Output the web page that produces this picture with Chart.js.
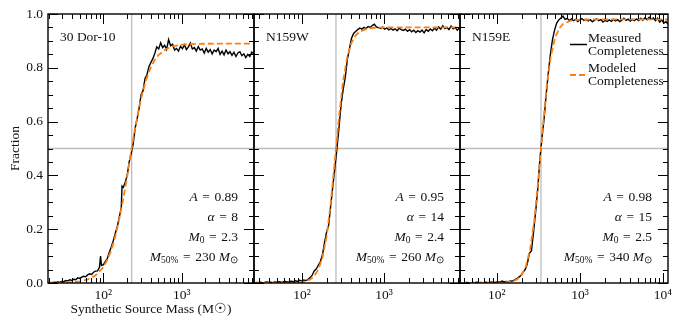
<!DOCTYPE html>
<html lang="en">
<head>
<meta charset="UTF-8">
<title>Completeness</title>
<script src="https://cdn.jsdelivr.net/npm/chart.js@4"></script>
<style>
  body { margin: 0; background: #fff; }
  #wrap { position: relative; width: 680px; height: 327px; overflow: hidden; }
  canvas { position: absolute; top: 0; }
</style>
</head>
<body>
<div id="wrap">
  <canvas id="p0" width="262" height="327" style="left:0px"></canvas>
  <canvas id="p1" width="222" height="327" style="left:246px"></canvas>
  <canvas id="p2" width="228" height="327" style="left:452px"></canvas>
</div>
<script>
// ---- data ----
const panelNames = ['30 Dor-10', 'N159W', 'N159E'];
const ampValues = [0.89, 0.95, 0.98];
const alphaValues = [8, 14, 15];
const m0Values = [2.3, 2.4, 2.5];
const m50Values = [230, 260, 340];
const massRanges = [[19.6, 8400], [26, 8470], [36, 11500]];
const decadeTicks = [100, 1000, 10000];
const yTicks = [0, 0.2, 0.4, 0.6, 0.8, 1.0];

const measMass1 = [19.6, 20.8, 22.0, 23.4, 24.8, 26.2, 27.8, 29.5, 31.2, 33.1, 35.1, 37.2, 39.4, 41.8, 44.3, 47.0, 49.8, 52.8, 55.9, 59.3, 62.8, 66.6, 70.6, 74.8, 79.3, 84.1, 89.1, 92.0, 94.5, 100.2, 106.2, 112.5, 119.3, 126.4, 134.0, 142.1, 150.6, 159.6, 169.2, 173, 179.3, 190.1, 201.5, 213.6, 226.4, 240.0, 254.4, 269.7, 285.8, 303.0, 321.2, 340.4, 360.9, 382.5, 405.5, 429.8, 455.6,
  480, 509, 539, 572, 606, 642, 681, 722, 765, 811, 860, 911, 966, 1024, 1085, 1150, 1219, 1292, 1370, 1452, 1539, 1632, 1730, 1833, 1943, 2060, 2184, 2315, 2453, 2601, 2757, 2922, 3097, 3283, 3480, 3689, 3911, 4145, 4394, 4658, 4937, 5233, 5547, 5880, 6233, 6607, 7003, 7424, 7869, 8340];
const measFrac1 = [0.000, 0.002, 0.001, 0.003, 0.002, 0.004, 0.003, 0.006, 0.005, 0.009, 0.008, 0.012, 0.010, 0.014, 0.012, 0.019, 0.017, 0.022, 0.025, 0.023, 0.030, 0.034, 0.032, 0.040, 0.044, 0.045, 0.058, 0.100, 0.065, 0.068, 0.080, 0.092, 0.115, 0.135, 0.158, 0.185, 0.210, 0.245, 0.280, 0.360, 0.355, 0.375, 0.400, 0.450, 0.480, 0.515, 0.575, 0.610, 0.650, 0.700, 0.715, 0.760, 0.775, 0.805, 0.820, 0.835, 0.855,
  0.878, 0.870, 0.893, 0.875, 0.884, 0.868, 0.905, 0.882, 0.888, 0.866, 0.872, 0.862, 0.880, 0.871, 0.886, 0.868, 0.878, 0.892, 0.870, 0.875, 0.862, 0.879, 0.866, 0.870, 0.855, 0.872, 0.858, 0.868, 0.852, 0.866, 0.860, 0.872, 0.850, 0.862, 0.848, 0.866, 0.852, 0.860, 0.846, 0.858, 0.842, 0.855, 0.860, 0.845, 0.852, 0.838, 0.850, 0.842, 0.858, 0.852];

const measMass2 = [26, 27.6, 29.2, 31.0, 32.8, 34.8, 36.9, 39.1, 41.4, 43.9, 46.6, 49.3, 52.3, 55.5, 58.8, 62.3, 66.0, 70.0, 74.2, 78.7, 83.4, 88.4, 93.7, 99.3, 105.3, 111.6, 118.3, 125.4, 132.9, 140.9, 149.3, 158.3, 167.8, 177.8, 188.5, 199.8, 211.8, 224.5, 238.0, 252.3, 267.4, 283.4, 300.5, 318.5, 337.6, 357.8, 379.3, 402.1, 426.2, 451.8, 478.9, 507.6, 538.1, 570.4, 604.6, 640.9, 679.3, 720.1, 763.3, 809.1, 857.6, 909.1, 963.6,
  1021, 1083, 1148, 1217, 1290, 1367, 1449, 1536, 1628, 1726, 1830, 1939, 2056, 2179, 2310, 2448, 2595, 2751, 2916, 3091, 3276, 3473, 3681, 3902, 4136, 4384, 4648, 4926, 5222, 5535, 5867, 6219, 6593, 6988, 7407, 7852, 8323, 8470];
const measFrac2 = [0.000, 0.002, 0.001, 0.003, 0.001, 0.002, 0.004, 0.002, 0.003, 0.001, 0.004, 0.003, 0.005, 0.003, 0.004, 0.006, 0.004, 0.005, 0.007, 0.005, 0.008, 0.006, 0.010, 0.008, 0.011, 0.009, 0.013, 0.020, 0.028, 0.045, 0.052, 0.066, 0.080, 0.105, 0.150, 0.190, 0.215, 0.290, 0.360, 0.430, 0.500, 0.580, 0.665, 0.720, 0.765, 0.830, 0.870, 0.910, 0.928, 0.935, 0.942, 0.948, 0.944, 0.950, 0.946, 0.953, 0.950, 0.957, 0.962, 0.952, 0.949, 0.946, 0.951,
  0.944, 0.948, 0.941, 0.946, 0.940, 0.945, 0.938, 0.947, 0.942, 0.939, 0.944, 0.936, 0.942, 0.934, 0.940, 0.931, 0.938, 0.933, 0.940, 0.930, 0.942, 0.936, 0.944, 0.938, 0.947, 0.940, 0.952, 0.944, 0.956, 0.946, 0.950, 0.942, 0.955, 0.945, 0.950, 0.940, 0.948, 0.944];

const measMass3 = [36, 38.2, 40.4, 42.9, 45.4, 48.2, 51.1, 54.1, 57.4, 60.8, 64.5, 68.3, 72.4, 76.8, 81.4, 86.3, 91.5, 97.0, 102.8, 108.9, 115.5, 122.4, 129.7, 137.5, 145.8, 154.5, 163.8, 173.6, 184.0, 195.1, 206.8, 219.2, 232.3, 246.3, 261.1, 276.7, 293.3, 310.9, 329.6, 349.4, 370.3, 392.5, 416.1, 441.1, 467.5, 495.6, 525.3, 556.8, 590.2, 625.6, 663.2, 703.0, 745.2, 789.9, 837.3, 887.5, 940.8, 997.2,
  1057, 1120, 1188, 1259, 1334, 1414, 1499, 1589, 1685, 1786, 1893, 2006, 2127, 2254, 2390, 2533, 2685, 2846, 3017, 3198, 3390, 3593, 3809, 4037, 4280, 4536, 4809, 5097, 5403, 5727, 6071, 6435, 6821, 7231, 7664, 8124, 8612, 9129, 9676, 10257, 10872, 11500];
const measFrac3 = [0.000, 0.001, 0.000, 0.002, 0.001, 0.000, 0.002, 0.001, 0.003, 0.001, 0.002, 0.000, 0.003, 0.002, 0.001, 0.004, 0.002, 0.003, 0.005, 0.003, 0.007, 0.004, 0.006, 0.005, 0.008, 0.007, 0.012, 0.016, 0.022, 0.028, 0.040, 0.050, 0.070, 0.110, 0.120, 0.190, 0.265, 0.350, 0.460, 0.540, 0.610, 0.700, 0.780, 0.850, 0.905, 0.940, 0.966, 0.978, 0.985, 0.992, 0.980, 0.984, 0.976, 0.982, 0.975, 0.980, 0.972, 0.978,
  0.983, 0.976, 0.980, 0.974, 0.979, 0.971, 0.977, 0.982, 0.975, 0.979, 0.970, 0.976, 0.972, 0.978, 0.973, 0.980, 0.974, 0.979, 0.972, 0.977, 0.984, 0.976, 0.981, 0.974, 0.980, 0.975, 0.982, 0.976, 0.984, 0.977, 0.986, 0.979, 0.988, 0.980, 0.985, 0.975, 0.984, 0.970, 0.978, 0.966, 0.972, 0.962];

const modelMass1 = [19.6, 32, 50, 63, 79, 100, 112, 126, 141, 158, 178, 200, 224, 251, 282, 316, 355, 398, 447, 501, 631, 794, 1000, 1585, 3162, 8400];
const modelFrac1 = [0.0002, 0.001, 0.006, 0.013, 0.028, 0.059, 0.086, 0.122, 0.170, 0.232, 0.307, 0.392, 0.481, 0.567, 0.644, 0.708, 0.759, 0.798, 0.826, 0.846, 0.870, 0.881, 0.886, 0.889, 0.890, 0.890];
const modelMass2 = [26, 63, 79, 100, 126, 141, 158, 178, 200, 224, 251, 282, 316, 355, 398, 447, 501, 631, 794, 1000, 3162, 8470];
const modelFrac2 = [0.0, 0.0002, 0.0008, 0.003, 0.013, 0.025, 0.050, 0.095, 0.173, 0.294, 0.451, 0.613, 0.746, 0.837, 0.890, 0.919, 0.934, 0.946, 0.949, 0.950, 0.950, 0.950];
const modelMass3 = [36, 100, 126, 158, 178, 200, 224, 251, 282, 316, 355, 398, 447, 501, 562, 631, 794, 1000, 1585, 3162, 11500];
const modelFrac3 = [0.0, 0.0004, 0.002, 0.007, 0.015, 0.031, 0.063, 0.124, 0.231, 0.386, 0.568, 0.730, 0.843, 0.910, 0.946, 0.964, 0.976, 0.979, 0.980, 0.980, 0.980];

const measured = [[measMass1, measFrac1], [measMass2, measFrac2], [measMass3, measFrac3]];
const modeled = [[modelMass1, modelFrac1], [modelMass2, modelFrac2], [modelMass3, modelFrac3]];

const FONT = '"Liberation Serif", "Times New Roman", serif';
const INK = '#111';
const FS = 13.5;
const EQ = '\u2004=\u2004';
const sup = { 2: '\u00b2', 3: '\u00b3', 4: '\u2074' };

function pts(m, f) {
  return m.map((v, i) => ({ x: v, y: f[i] }));
}

// math-ish text: runs of [text, style], style r = roman, i = italic, s = subscript
function drawRuns(ctx, runs, xRight, y) {
  const fonts = runs.map(r => r[1] === 'i' ? 'italic ' + FS + 'px ' + FONT : r[1] === 's' ? '9.5px ' + FONT : FS + 'px ' + FONT);
  let total = 0;
  runs.forEach((r, i) => { ctx.font = fonts[i]; total += ctx.measureText(r[0]).width; });
  let x = xRight - total;
  ctx.textAlign = 'left';
  runs.forEach((r, i) => {
    ctx.font = fonts[i];
    ctx.fillText(r[0], x, y + (r[1] === 's' ? 3 : 0));
    x += ctx.measureText(r[0]).width;
  });
}

const framePlugin = {
  id: 'frame',
  afterDatasetsDraw(chart, args, opts) {
    const { ctx, chartArea: a, scales } = chart;
    const xs = scales.x, ys = scales.y;
    ctx.save();
    ctx.strokeStyle = '#000';
    ctx.lineWidth = 1;
    ctx.beginPath();
    // x ticks, inward, top and bottom
    const lo = Math.floor(Math.log10(xs.min)), hi = Math.ceil(Math.log10(xs.max));
    for (let d = lo; d <= hi; d++) {
      for (let k = 1; k <= 9; k++) {
        const v = k * Math.pow(10, d);
        if (v < xs.min || v > xs.max) continue;
        const px = Math.round(xs.getPixelForValue(v)) + 0.5;
        const len = k === 1 ? 10 : 5;
        ctx.moveTo(px, a.bottom); ctx.lineTo(px, a.bottom - len);
        ctx.moveTo(px, a.top); ctx.lineTo(px, a.top + len);
      }
    }
    // y ticks, inward, left and right
    for (let i = 0; i <= 20; i++) {
      const py = Math.round(ys.getPixelForValue(i * 0.05)) + 0.5;
      const len = i % 4 === 0 ? 10 : 5;
      ctx.moveTo(a.left, py); ctx.lineTo(a.left + len, py);
      ctx.moveTo(a.right, py); ctx.lineTo(a.right - len, py);
    }
    ctx.stroke();
    ctx.lineWidth = 1.4;
    ctx.strokeRect(a.left, a.top, a.right - a.left, a.bottom - a.top);

    ctx.fillStyle = INK;
    ctx.textBaseline = 'middle';
    ctx.font = FS + 'px ' + FONT;
    ctx.textAlign = 'left';
    ctx.fillText(opts.name, a.left + 12, a.top + 23);

    const xr = a.right - 16;
    drawRuns(ctx, [['A', 'i'], [EQ + opts.amp.toFixed(2), 'r']], xr, 197);
    drawRuns(ctx, [['\u03b1', 'i'], [EQ + opts.alpha, 'r']], xr, 217);
    drawRuns(ctx, [['M', 'i'], ['0', 's'], [EQ + opts.m0.toFixed(1), 'r']], xr, 237);
    drawRuns(ctx, [['M', 'i'], ['50%', 's'], [EQ + opts.m50 + ' ', 'r'], ['M', 'i'], ['\u2299', 's']], xr, 257);

    if (opts.legend) {
      const ds = chart.data.datasets;
      const hx0 = a.right - 98, hx1 = a.right - 81, tx = a.right - 80;
      ctx.lineWidth = 1.5;
      ctx.strokeStyle = ds[1].borderColor;
      ctx.beginPath(); ctx.moveTo(hx0, 44.5); ctx.lineTo(hx1, 44.5); ctx.stroke();
      ctx.strokeStyle = ds[0].borderColor;
      ctx.lineWidth = 1.8;
      ctx.setLineDash([6, 3]);
      ctx.beginPath(); ctx.moveTo(hx0, 75); ctx.lineTo(hx1, 75); ctx.stroke();
      ctx.setLineDash([]);
      ctx.font = FS + 'px ' + FONT;
      ctx.fillText('Measured', tx, 38);
      ctx.fillText('Completeness', tx, 51);
      ctx.fillText('Modeled', tx, 68);
      ctx.fillText('Completeness', tx, 81);
    }
    ctx.restore();
  }
};

function makePanel(i) {
  const first = i === 0;
  const [xmin, xmax] = massRanges[i];
  const pads = [{ left: 0, right: 8 }, { left: 8, right: 8 }, { left: 8, right: 12 }][i];
  return new Chart(document.getElementById('p' + i), {
    type: 'line',
    data: {
      datasets: [
        { data: pts(modeled[i][0], modeled[i][1]), borderColor: '#ff7f0e', borderWidth: 1.8, borderDash: [6, 3] },
        { data: pts(measured[i][0], measured[i][1]), borderColor: '#000000', borderWidth: 1.4 },
        { data: [{ x: m50Values[i], y: 0 }, { x: m50Values[i], y: 1 }], borderColor: '#bdbdbd', borderWidth: 1.3 },
        { data: [{ x: xmin, y: 0.5 }, { x: xmax, y: 0.5 }], borderColor: '#bdbdbd', borderWidth: 1.3 }
      ]
    },
    options: {
      responsive: false,
      animation: false,
      devicePixelRatio: 1,
      elements: { point: { radius: 0 }, line: { tension: 0, borderJoinStyle: 'miter' } },
      layout: { padding: { top: 14, bottom: 0, left: pads.left, right: pads.right } },
      plugins: {
        legend: { display: false },
        tooltip: { enabled: false },
        frame: { name: panelNames[i], amp: ampValues[i], alpha: alphaValues[i], m0: m0Values[i], m50: m50Values[i], legend: i === 2 }
      },
      scales: {
        x: {
          type: 'logarithmic',
          min: xmin,
          max: xmax,
          grid: { display: false, drawTicks: false },
          border: { display: false },
          afterBuildTicks: s => { s.ticks = decadeTicks.filter(v => v >= xmin && v <= xmax).map(v => ({ value: v })); },
          afterFit: s => { s.height = 44; s.paddingLeft = 0; s.paddingRight = 0; },
          ticks: {
            padding: 4,
            maxRotation: 0,
            autoSkip: false,
            color: INK,
            font: { family: FONT, size: FS },
            callback: v => '10' + sup[Math.round(Math.log10(v))]
          },
          title: {
            display: first,
            text: 'Synthetic Source Mass (M\u2609)',
            color: INK,
            font: { family: FONT, size: FS },
            padding: { top: 0, bottom: 9 }
          }
        },
        y: {
          display: first,
          min: 0,
          max: 1,
          grid: { display: false, drawTicks: false },
          border: { display: false },
          afterBuildTicks: s => { s.ticks = yTicks.map(v => ({ value: v })); },
          afterFit: s => { s.width = first ? 48 : 0; s.paddingTop = 0; s.paddingBottom = 0; },
          ticks: {
            padding: 5,
            color: INK,
            font: { family: FONT, size: FS },
            callback: v => v.toFixed(1)
          },
          title: {
            display: true,
            text: 'Fraction',
            color: INK,
            font: { family: FONT, size: FS },
            padding: { top: 7, bottom: 0 }
          }
        }
      }
    },
    plugins: [framePlugin]
  });
}

[0, 1, 2].forEach(makePanel);
</script>
</body>
</html>
